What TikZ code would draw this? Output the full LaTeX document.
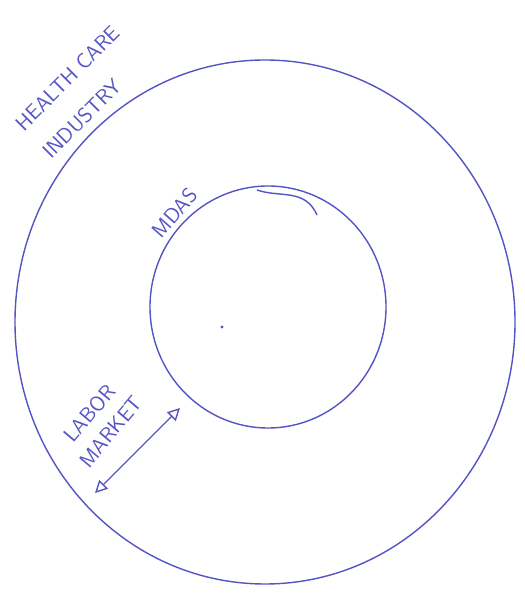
\documentclass[tikz,border=0pt]{standalone}
\usetikzlibrary{arrows.meta}
\definecolor{pen}{RGB}{84,84,196}
\tikzset{
  sketch/.style={pen, line width=0.8pt},
  hand/.style={pen, font=\sffamily\large, inner sep=1pt}
}
\begin{document}
\begin{tikzpicture}
\useasboundingbox (0,0) rectangle (10.48,11.96);
% rings
\draw[sketch] (5.30,5.52) ellipse [x radius=5.0, y radius=5.24];
\draw[sketch] (5.36,5.82) ellipse [x radius=2.36, y radius=2.42];
\draw[sketch] (5.14,8.16) .. controls (5.6,8.00) and (6.1,8.20) .. (6.34,7.66);
\fill[pen] (4.44,5.42) circle (0.9pt);
% labels
\node[hand, rotate=45, align=left] (ind) at (1.63,10.12) {HEALTH CARE\\[8pt]INDUSTRY};
\node[hand, rotate=49] (mdas) at (3.50,7.70) {MDAS};
\node[hand, rotate=50, align=center] (mkt) at (2.00,3.51) {LABOR\\[2pt]MARKET};
% labor market link
\coordinate (lo) at (1.90,2.10);
\coordinate (hi) at (3.60,3.80);
\draw[sketch, {Triangle[open,length=7pt,width=7pt]}-{Triangle[open,length=7pt,width=7pt]}] (lo) -- (hi);
\end{tikzpicture}
\end{document}
